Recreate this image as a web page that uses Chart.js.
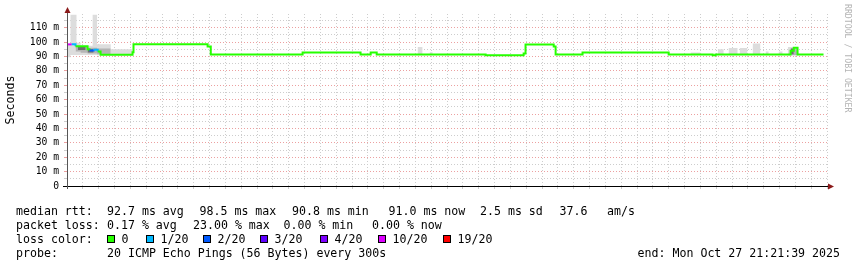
<!DOCTYPE html>
<html>
<head>
<meta charset="utf-8">
<script src="https://cdn.jsdelivr.net/npm/chart.js@4"></script>
<style>
  body { margin: 0; background: #fff; }
  canvas { display: block; }
</style>
</head>
<body>
<canvas id="myChart" width="857" height="267"></canvas>
<script>
'use strict';

// hours counted from Mon 00:00
let startHour = -2.64;
let endHour = 21.36;
let dayName = 'Mon';

// median rtt in ms (value holds until the next time)
let medianTimes = [-2.62, -2.49, -2.37, -1.99, -1.93, -1.80, -1.67, -1.58, -0.57, -0.54, 1.80, 1.90, 4.80, 6.63, 6.95, 7.14, 10.58, 11.78, 11.84, 12.73, 12.79, 13.64, 16.36, 17.75, 17.84, 20.21, 20.31, 20.43, 21.25];
let medianValues = [98.4, 98.4, 97.1, 95, 94.2, 94.6, 93.4, 91.2, 93, 98.5, 97, 91.4, 92.8, 91.4, 92.8, 91.4, 90.9, 92, 98.3, 97, 91.4, 92.8, 91.4, 90.9, 91.4, 94, 96, 91.4, 91.4];
let medianLoss = [10, 1, 0, 0, 2, 1, 0, 0, 0, 0, 0, 0, 0, 0, 0, 0, 0, 0, 0, 0, 0, 0, 0, 0, 0, 0, 0, 0, 0];

// smoke (spread of the 20 pings)
let smokeStart = [-2.64, -2.53, -2.34, -2.21, -1.83, -1.69, -1.26, 8.43, 8.81, 17.05, 17.91, 18.25, 18.60, 19.01, 19.42, 19.83, 20.12];
let smokeEnd = [-2.53, -2.34, -2.21, -1.83, -1.69, -1.26, -0.57, 8.59, 8.91, 17.37, 18.10, 18.54, 18.85, 19.26, 19.52, 19.96, 20.45];
let smokeLow = [89.5, 91, 91, 91, 91, 90.8, 90.8, 91, 91, 91, 91, 91, 91, 91, 91, 91, 90.5];
let smokeHigh = [98.5, 119, 99.5, 97.5, 119, 98.5, 95, 96.5, 93, 92.8, 95, 95.8, 95.8, 99, 93.5, 93.5, 96.5];

let midStart = [-2.37, -2.21, -1.99, -1.69, 20.21];
let midEnd = [-2.21, -1.99, -1.69, -1.26, 20.43];
let midLow = [93.5, 92.5, 92, 91.5, 91];
let midHigh = [97.5, 97, 96, 95.5, 95.5];

let darkStart = [-2.30, -1.99, 20.21];
let darkEnd = [-2.05, -1.80, 20.31];
let darkLow = [94.5, 92.8, 91.5];
let darkHigh = [96.5, 95, 95.5];

// loss legend
let lossLimits = [0, 1, 2, 3, 4, 10, 19];
let lossLabels = ['0', '1/20', '2/20', '3/20', '4/20', '10/20', '19/20'];
let lossColors = ['#26ff00', '#00b8ff', '#0059ff', '#5e00ff', '#7e00ff', '#dd00ff', '#ff0000'];

let rttStats = ['92.7 ms avg', '98.5 ms max', '90.8 ms min', '91.0 ms now', '2.5 ms sd', '37.6', 'am/s'];
let lossStats = ['0.17 % avg', '23.00 % max', '0.00 % min', '0.00 % now'];
let probeText = '20 ICMP Echo Pings (56 Bytes) every 300s';
let endText = 'end: Mon Oct 27 21:21:39 2025';

let majorGrid = 'rgb(236,160,160)';
let minorGrid = 'rgb(205,205,205)';
let mono = '"DejaVu Sans Mono", monospace';

function lossColor(n) {
    let c = lossColors[0];
    for (let i = 0; i < lossLimits.length; i++) {
        if (n >= lossLimits[i]) c = lossColors[i];
    }
    return c;
}

function bandPoints(starts, ends, values) {
    let pts = [];
    for (let i = 0; i < starts.length; i++) {
        if (i > 0 && starts[i] > ends[i - 1]) pts.push({ x: ends[i - 1], y: null });
        pts.push({ x: starts[i], y: values[i] });
        pts.push({ x: ends[i], y: values[i] });
    }
    return pts;
}

function band(starts, ends, lows, highs, color, order) {
    return [{
        data: bandPoints(starts, ends, highs),
        borderWidth: 0,
        pointRadius: 0,
        backgroundColor: color,
        fill: '+1',
        order: order
    }, {
        data: bandPoints(starts, ends, lows),
        borderWidth: 0,
        pointRadius: 0,
        fill: false,
        order: order
    }];
}

let medianPoints = [];
for (let i = 0; i < medianTimes.length; i++) {
    medianPoints.push({ x: medianTimes[i], y: medianValues[i] });
}

function pad(n) {
    return n < 10 ? '0' + n : '' + n;
}

let rrdPlugin = {
    id: 'rrd',
    afterDraw(chart) {
        let ctx = chart.ctx;
        let area = chart.chartArea;
        ctx.save();

        // axes with arrows
        ctx.strokeStyle = '#000';
        ctx.lineWidth = 1;
        ctx.beginPath();
        ctx.moveTo(63, area.bottom + 0.5);
        ctx.lineTo(area.right + 2, area.bottom + 0.5);
        ctx.stroke();
        ctx.strokeStyle = '#555';
        ctx.beginPath();
        ctx.moveTo(area.left + 0.5, area.bottom + 3);
        ctx.lineTo(area.left + 0.5, 11);
        ctx.stroke();
        ctx.fillStyle = '#8b1a1a';
        ctx.beginPath();
        ctx.moveTo(area.left + 0.5, 7);
        ctx.lineTo(area.left - 2.5, 13);
        ctx.lineTo(area.left + 3.5, 13);
        ctx.fill();
        ctx.beginPath();
        ctx.moveTo(area.right + 7, area.bottom + 0.5);
        ctx.lineTo(area.right + 1, area.bottom - 2.5);
        ctx.lineTo(area.right + 1, area.bottom + 3.5);
        ctx.fill();

        // legend text
        ctx.fillStyle = '#000';
        ctx.font = '11.6px ' + mono;
        ctx.textBaseline = 'alphabetic';
        ctx.textAlign = 'left';
        let rows = [215, 229, 243, 257];
        ctx.fillText('median rtt:', 16, rows[0]);
        let rttX = [107, 199.5, 292, 388.5, 480, 559.5, 607];
        for (let i = 0; i < rttStats.length; i++) ctx.fillText(rttStats[i], rttX[i], rows[0]);
        ctx.fillText('packet loss:', 16, rows[1]);
        let lossX = [107, 193, 283.5, 372];
        for (let i = 0; i < lossStats.length; i++) ctx.fillText(lossStats[i], lossX[i], rows[1]);
        ctx.fillText('loss color:', 16, rows[2]);
        let boxX = [107, 146, 203, 260, 320, 378, 443];
        for (let i = 0; i < lossLabels.length; i++) {
            ctx.fillStyle = lossColors[i];
            ctx.fillRect(boxX[i], rows[2] - 8, 7, 7);
            ctx.strokeStyle = '#000';
            ctx.strokeRect(boxX[i] + 0.5, rows[2] - 7.5, 7, 7);
            ctx.fillStyle = '#000';
            ctx.fillText(lossLabels[i], boxX[i] + 14.5, rows[2]);
        }
        ctx.fillText('probe:', 16, rows[3]);
        ctx.fillText(probeText, 107, rows[3]);
        ctx.textAlign = 'right';
        ctx.fillText(endText, 840, rows[3]);

        // watermark
        ctx.translate(844, 4);
        ctx.rotate(Math.PI / 2);
        ctx.textAlign = 'left';
        ctx.textBaseline = 'middle';
        ctx.fillStyle = '#b4b4b4';
        ctx.font = '8.2px ' + mono;
        ctx.fillText('RRDTOOL / TOBI OETIKER', 0, -3);
        ctx.restore();
    }
};

let chartEl = document.getElementById('myChart').getContext('2d');
let datasets = [{
    data: medianPoints,
    stepped: 'before',
    borderWidth: 2,
    pointRadius: 0,
    fill: false,
    order: 0,
    segment: {
        borderColor: c => lossColor(medianLoss[c.p0DataIndex])
    }
}];
datasets = datasets.concat(band(smokeStart, smokeEnd, smokeLow, smokeHigh, '#dddddd', 3));
datasets = datasets.concat(band(midStart, midEnd, midLow, midHigh, '#b4b4b4', 2));
datasets = datasets.concat(band(darkStart, darkEnd, darkLow, darkHigh, '#6e6e6e', 1));

let myChart = new Chart(chartEl, {
    type: 'line',
    data: { datasets: datasets },
    plugins: [rrdPlugin],
    options: {
        responsive: false,
        animation: false,
        devicePixelRatio: 1,
        layout: { padding: { top: 14, right: 30, left: 0, bottom: 0 } },
        plugins: { legend: { display: false }, tooltip: { enabled: false } },
        scales: {
            x: {
                type: 'linear',
                min: startHour,
                max: endHour,
                afterFit: s => { s.height = 81; },
                border: { display: false, dash: [1, 2] },
                grid: {
                    color: c => Number.isInteger(c.tick.value) ? majorGrid : minorGrid,
                    tickColor: c => Number.isInteger(c.tick.value) ? majorGrid : minorGrid,
                    tickLength: 3,
                    tickBorderDash: [],
                    borderDash: [1, 2]
                },
                ticks: {
                    stepSize: 0.5,
                    includeBounds: false,
                    autoSkip: false,
                    maxRotation: 0,
                    maxTicksLimit: 200,
                    padding: 0,
                    color: '#000',
                    font: { family: mono, size: 9.7 },
                    callback: v => (v >= 0 && v % 3 === 0) ? dayName + ' ' + pad(v) + ':00' : ''
                }
            },
            y: {
                min: 0,
                max: 119.5,
                afterFit: s => { s.width = 67; },
                border: { display: false, dash: [1, 2] },
                grid: {
                    color: c => c.tick.value % 10 === 0 ? majorGrid : minorGrid,
                    tickColor: c => c.tick.value % 10 === 0 ? majorGrid : minorGrid,
                    tickLength: 3,
                    tickBorderDash: [],
                    borderDash: [1, 2]
                },
                title: {
                    display: true,
                    text: 'Seconds',
                    color: '#000',
                    font: { family: mono, size: 11.6 },
                    padding: { top: 4, bottom: 0 }
                },
                ticks: {
                    stepSize: 5,
                    includeBounds: false,
                    autoSkip: false,
                    padding: 5,
                    color: '#000',
                    font: { family: mono, size: 9.7 },
                    callback: v => v === 0 ? '0' : (v % 10 === 0 ? v + ' m' : '')
                }
            }
        }
    }
});
</script>
</body>
</html>
